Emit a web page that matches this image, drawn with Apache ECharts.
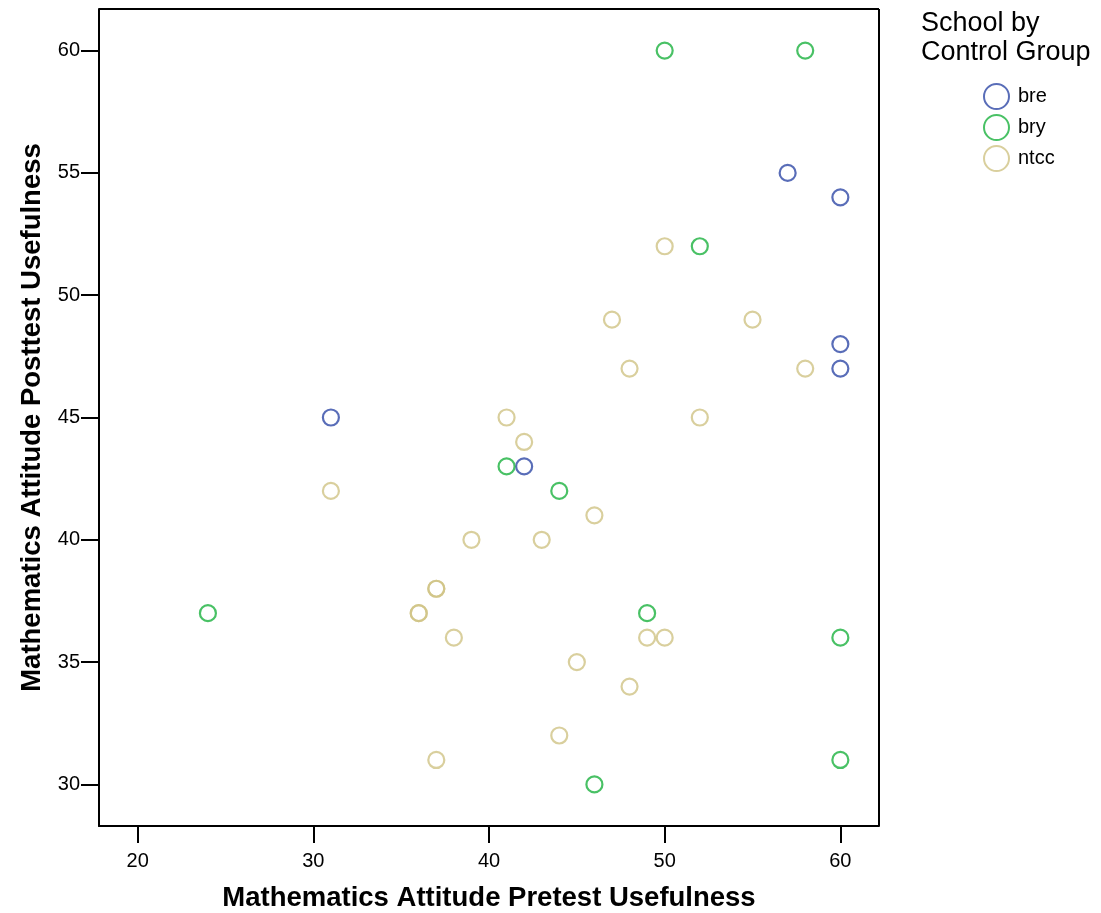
<!DOCTYPE html>
<html>
<head>
<meta charset="utf-8">
<script src="https://cdn.jsdelivr.net/npm/echarts@6/dist/echarts.min.js"></script>
<style>
  html, body { margin: 0; padding: 0; background: #fff; }
  #chart { width: 1101px; height: 913px; }
</style>
</head>
<body>
<div id="chart"></div>
<script>
// Pretest (x) vs posttest (y) usefulness scores, by school group
const breData = [[57, 55], [60, 54], [60, 48], [60, 47], [31, 45], [42, 43]];
const bryData = [[50, 60], [58, 60], [52, 52], [41, 43], [44, 42], [24, 37], [49, 37], [60, 36], [60, 31], [46, 30]];
const ntccData = [
  [50, 52], [47, 49], [55, 49], [48, 47], [58, 47], [41, 45], [52, 45], [42, 44],
  [31, 42], [46, 41], [39, 40], [43, 40], [37, 38], [37, 38], [36, 37], [36, 37],
  [38, 36], [49, 36], [50, 36], [45, 35], [48, 34], [44, 32], [37, 31]
];
const xTicks = [20, 30, 40, 50, 60];
const yTicks = [30, 35, 40, 45, 50, 55, 60];
const groupNames = ['bre', 'bry', 'ntcc'];
const groupColors = ['#2f48a6', '#1cb23e', '#cfc385'];

const font = 'Liberation Sans, Arial, sans-serif';
const chart = echarts.init(document.getElementById('chart'));

function ring(name, data, color) {
  return {
    name: name,
    type: 'scatter',
    data: data,
    symbol: 'circle',
    symbolSize: 16,
    itemStyle: { color: 'rgba(255,255,255,0)', borderColor: color, borderWidth: 2.2 },
    emphasis: { disabled: true }
  };
}

chart.setOption({
  animation: false,
  backgroundColor: '#fff',
  title: {
    text: 'School by\nControl Group',
    left: 916,
    top: 4,
    textStyle: { fontFamily: font, fontSize: 27, fontWeight: 'normal', color: '#000', lineHeight: 29 }
  },
  legend: {
    orient: 'vertical',
    left: 978,
    top: 78,
    itemWidth: 25,
    itemHeight: 25,
    itemGap: 4,
    data: groupNames.map(n => ({ name: n, icon: 'circle' })),
    textStyle: { fontFamily: font, fontSize: 20, lineHeight: 25, color: '#000', padding: [0, 0, 0, 4] }
  },
  grid: { left: 99, top: 9, width: 780, height: 817, containLabel: false, outerBoundsMode: 'none' },
  xAxis: {
    type: 'value',
    min: 17.8,
    max: 62.2,
    name: 'Mathematics Attitude Pretest Usefulness',
    nameLocation: 'middle',
    nameGap: 58,
    nameTextStyle: { fontFamily: font, fontSize: 27.5, fontWeight: 'bold', color: '#000' },
    axisLine: { show: true, lineStyle: { color: '#000', width: 2 } },
    axisTick: { show: true, customValues: xTicks, length: 17, inside: false, lineStyle: { color: '#000', width: 2 } },
    axisLabel: { customValues: xTicks, fontFamily: font, fontSize: 20, color: '#000', margin: 25 },
    splitLine: { show: false }
  },
  yAxis: {
    type: 'value',
    min: 28.3,
    max: 61.7,
    name: 'Mathematics Attitude Posttest Usefulness',
    nameLocation: 'middle',
    nameGap: 52,
    nameTextStyle: { fontFamily: font, fontSize: 27.5, fontWeight: 'bold', color: '#000' },
    axisLine: { show: true, lineStyle: { color: '#000', width: 2 } },
    axisTick: { show: true, customValues: yTicks, length: 18, inside: false, lineStyle: { color: '#000', width: 2 } },
    axisLabel: { customValues: yTicks, fontFamily: font, fontSize: 20, color: '#000', margin: 19 },
    splitLine: { show: false }
  },
  series: [
    ring(groupNames[0], breData, groupColors[0]),
    ring(groupNames[1], bryData, groupColors[1]),
    ring(groupNames[2], ntccData, groupColors[2]),
    {
      // closes the plot frame on the top and right sides
      type: 'line',
      data: [],
      markLine: {
        silent: true,
        symbol: 'none',
        label: { show: false },
        lineStyle: { color: '#000', width: 2, type: 'solid' },
        data: [[{ coord: [17.8, 61.7] }, { coord: [62.2, 61.7] }], [{ coord: [62.2, 61.7] }, { coord: [62.2, 28.3] }]]
      }
    }
  ]
});
</script>
</body>
</html>
